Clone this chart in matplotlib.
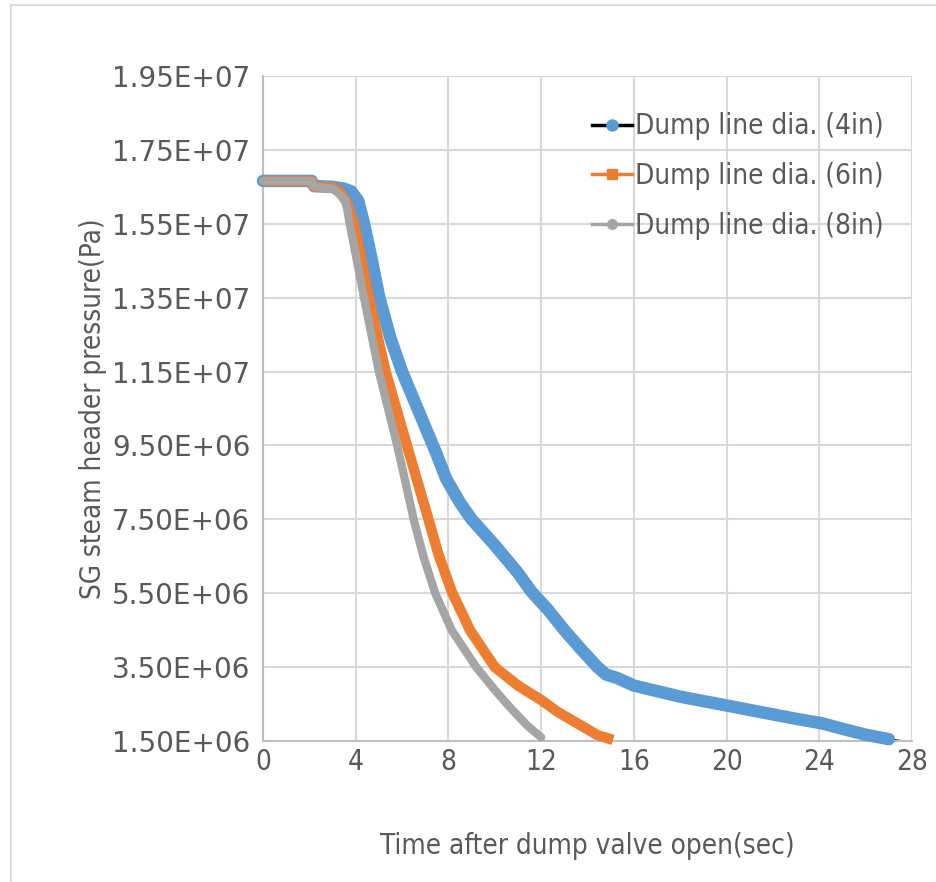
import matplotlib
matplotlib.use('Agg')
import matplotlib.pyplot as plt
from matplotlib.lines import Line2D
from matplotlib.font_manager import FontProperties

# time (s) and pressure (1e6 Pa)
t_4in = [0, 2.1, 2.2, 3.0, 3.5, 3.8, 4.11, 4.36, 4.7, 5.0, 5.5, 6.0, 6.5, 7.0,
         7.5, 7.9, 8.5, 9.0, 10.0, 11.0, 11.57, 12.3, 13.0, 13.7, 14.43, 14.8,
         15.3, 16.0, 17.0, 18.0, 19.0, 20.1, 21.0, 22.0, 23.0, 24.1, 25.0, 26.0,
         27.0]
p_4in = [16.66, 16.66, 16.52, 16.5, 16.45, 16.38, 16.12, 15.5, 14.5, 13.55,
         12.4, 11.5, 10.75, 10.0, 9.25, 8.6, 7.95, 7.5, 6.8, 6.05, 5.55, 5.05, 4.5,
         4.0, 3.5, 3.3, 3.2, 3.0, 2.85, 2.7, 2.58, 2.45, 2.34, 2.22, 2.1, 1.98,
         1.83, 1.67, 1.55]
t_4in_tail = [27.0, 27.6]
p_4in_tail = [1.55, 1.5]

t_6in = [0, 2.1, 2.2, 3.0, 3.3, 3.6, 3.93, 4.57, 5.29, 6.21, 6.72, 7.14, 7.57,
         8.14, 8.93, 10.0, 11.0, 12.0, 12.71, 13.5, 14.43, 15.1]
p_6in = [16.66, 16.66, 16.5, 16.48, 16.38, 16.1, 15.5, 13.5, 11.5, 9.5, 8.4,
         7.5, 6.55, 5.55, 4.5, 3.5, 3.0, 2.61, 2.29, 2.0, 1.66, 1.53]

t_8in = [0, 2.1, 2.2, 3.0, 3.3, 3.57, 3.74, 4.36, 5.0, 5.79, 6.07, 6.5, 6.93,
         7.43, 8.14, 9.2, 10.0, 10.7, 11.4, 12.0]
p_8in = [16.66, 16.66, 16.5, 16.45, 16.3, 16.12, 15.5, 13.5, 11.5, 9.5, 8.72,
         7.5, 6.48, 5.5, 4.5, 3.5, 2.88, 2.38, 1.92, 1.6]

labels = ['Dump line dia. (4in)', 'Dump line dia. (6in)', 'Dump line dia. (8in)']
y_ticks = [1.5e6 + 2e6 * i for i in range(10)]
x_ticks = list(range(0, 29, 4))

BLUE = '#5b9bd5'
ORANGE = '#ed7d31'
GRAY = '#a5a5a5'
TEXT = '#595959'
GRID = '#d9d9d9'
NARROW = dict(family='DejaVu Sans', stretch='condensed')


def pa(vals):
    return [v * 1e6 for v in vals]


fig = plt.figure(figsize=(9.36, 8.82), dpi=100)
ax = fig.add_axes([263 / 936, 1 - 741 / 882, (912 - 263) / 936, (741 - 76) / 882])

# outer chart border
fig.add_artist(Line2D([11 / 936, 11 / 936], [0, 1 - 5 / 882], color=GRID, lw=1.2))
fig.add_artist(Line2D([11 / 936, 1], [1 - 5 / 882, 1 - 5 / 882], color=GRID, lw=1.2))

ax.plot(t_4in + t_4in_tail[1:], pa(p_4in + p_4in_tail[1:]), color='black', lw=1.2,
        clip_on=False, zorder=2)
ax.plot(t_4in, pa(p_4in), color=BLUE, lw=9, solid_capstyle='round',
        solid_joinstyle='round', clip_on=False, zorder=3)
ax.plot(t_6in, pa(p_6in), color=ORANGE, lw=7.5, solid_capstyle='butt',
        solid_joinstyle='round', clip_on=False, zorder=4)
ax.plot(t_8in, pa(p_8in), color=GRAY, lw=6, solid_capstyle='round',
        solid_joinstyle='round', clip_on=False, zorder=5)

ax.set_xlim(0, 28)
ax.set_ylim(1.5e6, 1.95e7)
ax.set_xticks(x_ticks)
ax.set_yticks(y_ticks)
ax.set_yticklabels(['%.2E' % v for v in y_ticks])
ax.grid(True, color=GRID, lw=1.5)
ax.set_axisbelow(True)
ax.tick_params(length=0, labelcolor=TEXT)
ax.tick_params(axis='y', labelsize=20, pad=9)
ax.tick_params(axis='x', labelsize=20, pad=5)
for lab in ax.get_yticklabels():
    lab.set_family('DejaVu Sans')
for lab in ax.get_xticklabels():
    lab.set_fontproperties(FontProperties(size=20, **NARROW))
for side in ['top', 'right']:
    ax.spines[side].set_visible(False)
for side in ['left', 'bottom']:
    ax.spines[side].set_color('#bfbfbf')
    ax.spines[side].set_linewidth(1.5)

ax.set_xlabel('Time after dump valve open(sec)', fontsize=20, color=TEXT,
              labelpad=40, **NARROW)
ax.set_ylabel('SG steam header pressure(Pa)', fontsize=20, color=TEXT,
              labelpad=4, **NARROW)

handles = [
    Line2D([], [], color='black', lw=2.5, marker='o', ms=8, mfc=BLUE, mec=BLUE),
    Line2D([], [], color=ORANGE, lw=2.5, marker='s', ms=7, mfc=ORANGE, mec=ORANGE),
    Line2D([], [], color=GRAY, lw=2.5, marker='o', ms=7, mfc=GRAY, mec=GRAY),
]
leg = ax.legend(handles, labels, loc='upper right', bbox_to_anchor=(0.995, 0.983),
                frameon=False, handlelength=1.45, handletextpad=0.1,
                labelspacing=0.78, prop=FontProperties(size=20, **NARROW))
for txt in leg.get_texts():
    txt.set_color(TEXT)

fig.savefig('out.png', dpi=100)
